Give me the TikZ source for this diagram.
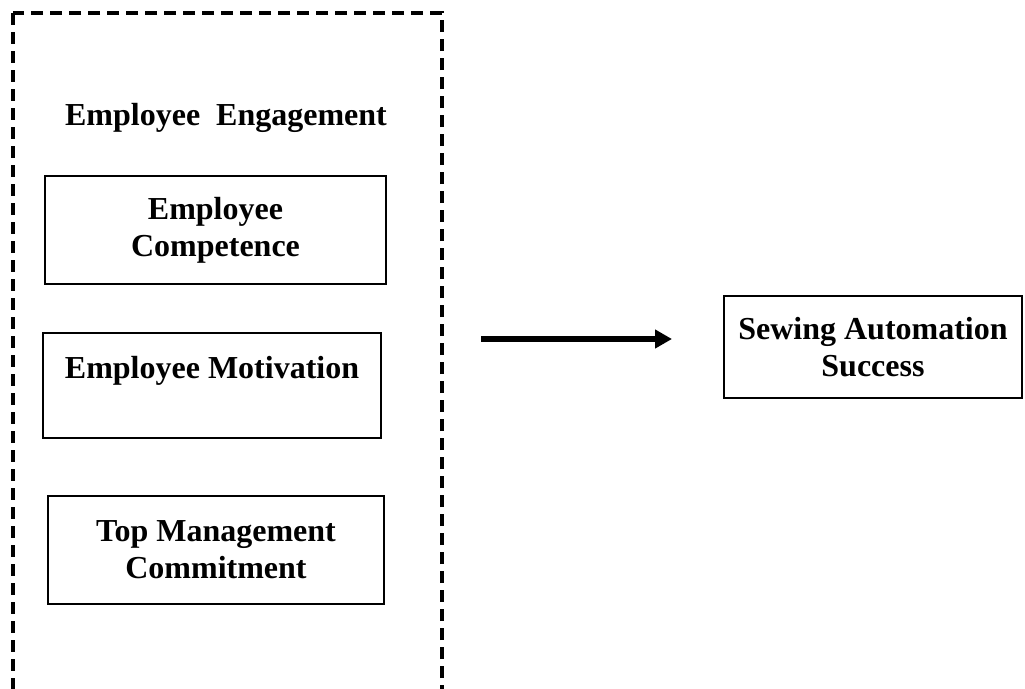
\documentclass[tikz,border=0pt]{standalone}
\usepackage{fontspec}
\setmainfont{Liberation Serif}
\usetikzlibrary{arrows.meta}

\begin{document}
\begin{tikzpicture}[x=1pt,y=-1pt,
  factor/.style={draw, line width=1.6pt, align=center, inner sep=0pt,
                 font=\fontsize{32}{37}\selectfont\bfseries},
  group/.style={draw, line width=3.2pt, dash pattern=on 12pt off 7pt}]
\useasboundingbox (0,0) rectangle (1025,688);
\clip (0,0) rectangle (1025,688);

%engagement factors
\node[font=\fontsize{32}{37}\selectfont\bfseries]
                                    (engagement) at (226,118) {Employee\ \ Engagement};
\node[factor, minimum width=341pt, minimum height=108pt]
                                    (competence) at (215.5,230) {Employee\\Competence};
\node[factor, minimum width=338pt, minimum height=105pt]
                                    (motivation) at (212,385.5) {Employee Motivation\\\mbox{}};
\node[factor, minimum width=336pt, minimum height=108pt]
                                    (commitment) at (216,550) {Top Management\\Commitment};

%outcome
\node[factor, minimum width=298pt, minimum height=102pt]
                                    (success)    at (873,347) {Sewing Automation\\Success};

%grouping box
\draw[group] (13,13) rectangle (442,720);

%effect arrow
\coordinate (arrowStart) at (481,339);
\coordinate (arrowEnd)   at (672,339);
\draw[-{Triangle[length=17pt,width=18pt]}, line width=6pt] (arrowStart) -- (arrowEnd);
\end{tikzpicture}
\end{document}
